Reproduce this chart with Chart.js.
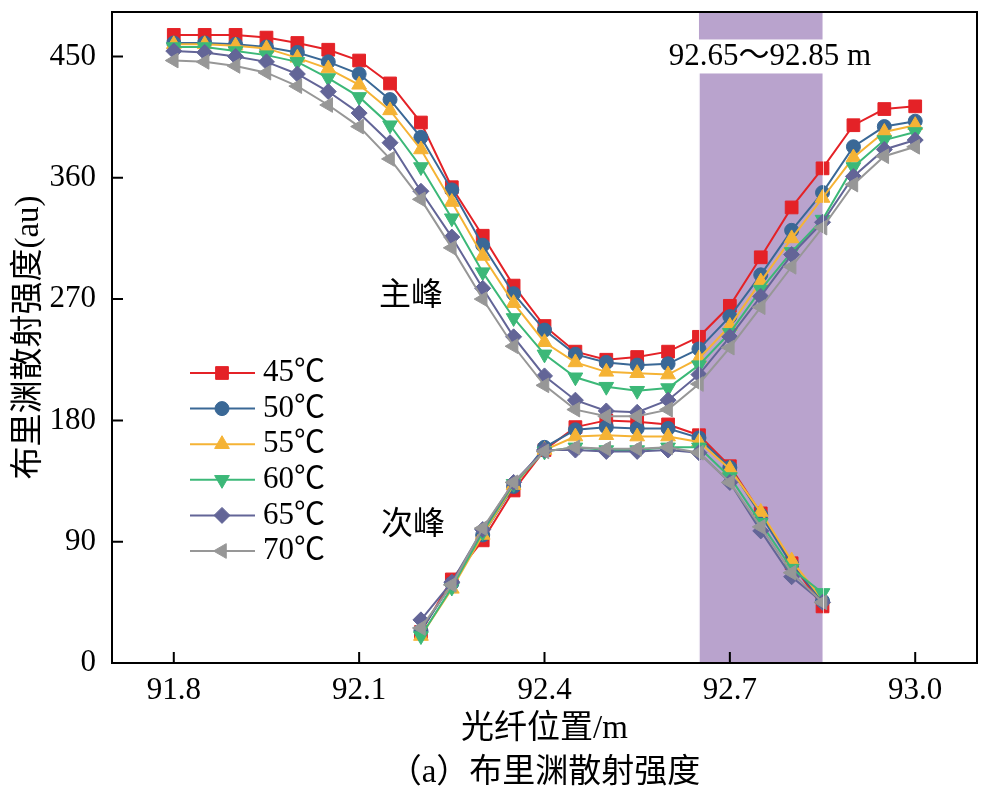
<!DOCTYPE html>
<html>
<head>
<meta charset="utf-8">
<script src="https://cdn.jsdelivr.net/npm/chart.js@4.4.1/dist/chart.umd.min.js"></script>
<style>
  html, body { margin: 0; padding: 0; background: #fff; }
  canvas { display: block; }
</style>
</head>
<body>
<canvas id="chart" width="993" height="798"></canvas>
<script>
// 光纤位置 (m)
const xMain = [91.8, 91.85, 91.9, 91.95, 92.0, 92.05, 92.1, 92.15, 92.2, 92.25, 92.3, 92.35, 92.4,
               92.45, 92.5, 92.55, 92.6, 92.65, 92.7, 92.75, 92.8, 92.85, 92.9, 92.95, 93.0];
const xSub = [92.2, 92.25, 92.3, 92.35, 92.4, 92.45, 92.5, 92.55, 92.6, 92.65, 92.7, 92.75, 92.8, 92.85];

const temps = ['45℃', '50℃', '55℃', '60℃', '65℃', '70℃'];

// 主峰
const main45 = [466, 466, 466, 464, 460, 455, 447, 430, 401, 353, 317, 280, 250, 231, 225, 227, 231, 242, 265, 301, 338, 367, 399, 411, 413];
const main50 = [460, 460, 459, 457, 453, 446, 437, 418, 390, 351, 310, 274, 247, 229, 223, 221, 222, 233, 257, 288, 321, 349, 383, 398, 402];
const main55 = [459, 459, 458, 456, 449, 441, 429, 410, 381, 342, 302, 267, 238, 223, 216, 215, 214, 226, 250, 283, 315, 345, 375, 394, 399];
const main60 = [457, 457, 454, 451, 446, 434, 420, 399, 368, 330, 290, 256, 229, 212, 205, 202, 204, 221, 245, 277, 305, 329, 368, 388, 394];
const main65 = [454, 453, 450, 446, 437, 424, 408, 386, 350, 316, 278, 242, 213, 195, 187, 186, 195, 214, 242, 272, 303, 327, 361, 381, 388];
const main70 = [447, 446, 443, 438, 428, 414, 398, 374, 344, 308, 270, 235, 206, 188, 183, 183, 188, 207, 234, 264, 294, 323, 355, 376, 383];

// 次峰
const sub45 = [23, 62, 91, 128, 158, 175, 180, 179, 177, 169, 146, 111, 74, 42];
const sub50 = [24, 59, 95, 131, 160, 173, 175, 174, 174, 167, 145, 110, 73, 46];
const sub55 = [20, 55, 95, 132, 158, 168, 169, 168, 168, 164, 144, 112, 76, 47];
const sub60 = [20, 56, 97, 133, 157, 160, 158, 158, 160, 160, 138, 104, 70, 52];
const sub65 = [32, 60, 99, 134, 158, 158, 157, 157, 158, 156, 134, 98, 64, 45];
const sub70 = [26, 58, 100, 134, 157, 160, 159, 159, 160, 156, 134, 101, 67, 45];

const xTicks = [91.8, 92.1, 92.4, 92.7, 93.0];
const yTicks = [0, 90, 180, 270, 360, 450];
const bandRange = [92.65, 92.85];

const mainSeries = [main45, main50, main55, main60, main65, main70];
const subSeries = [sub45, sub50, sub55, sub60, sub65, sub70];

const colors = ['#e42227', '#3a6896', '#f5b335', '#3cb878', '#636597', '#979797'];
const markers = [
  { pointStyle: 'rect', radius: 9, rotation: 0 },
  { pointStyle: 'circle', radius: 7, rotation: 0 },
  { pointStyle: 'triangle', radius: 8.5, rotation: 0 },
  { pointStyle: 'triangle', radius: 8.5, rotation: 180 },
  { pointStyle: 'rectRot', radius: 8, rotation: 0 },
  { pointStyle: 'triangle', radius: 8.5, rotation: -90 }
];

const serif = "'Liberation Serif', 'Noto Sans CJK SC', serif";

const datasets = [];
temps.forEach((t, i) => {
  [[xMain, mainSeries[i]], [xSub, subSeries[i]]].forEach(([xs, ys]) => {
    datasets.push({
      label: t,
      data: xs.map((x, k) => ({ x: x, y: ys[k] })),
      borderColor: colors[i],
      backgroundColor: colors[i],
      borderWidth: 2,
      pointStyle: markers[i].pointStyle,
      pointRadius: markers[i].radius,
      pointRotation: markers[i].rotation,
      pointBackgroundColor: colors[i],
      pointBorderColor: colors[i],
      pointBorderWidth: 1,
      tension: 0,
      order: 5 - i
    });
  });
});

// 紫色区域 + 标注
const bandPlugin = {
  id: 'band',
  beforeDatasetsDraw(chart) {
    const { ctx, chartArea: a, scales: { x, y } } = chart;
    const x0 = x.getPixelForValue(bandRange[0]);
    const x1 = x.getPixelForValue(bandRange[1]);
    ctx.save();
    ctx.fillStyle = '#b9a3cd';
    ctx.fillRect(x0, a.top, x1 - x0, a.bottom - a.top);

    const label = '92.65～92.85 m';
    ctx.font = '31px ' + serif;
    const w = ctx.measureText(label).width;
    const cx = x.getPixelForValue(92.765);
    const cy = y.getPixelForValue(450);
    ctx.fillStyle = '#fff';
    ctx.fillRect(cx - w / 2 - 2, cy - 17, w + 4, 34);
    ctx.fillStyle = '#000';
    ctx.textAlign = 'center';
    ctx.textBaseline = 'middle';
    ctx.fillText(label, cx, cy);
    ctx.restore();
  },
  afterDatasetsDraw(chart) {
    const { ctx, chartArea: a, scales: { x } } = chart;
    ctx.save();
    ctx.strokeStyle = 'rgba(255,255,255,0.7)';
    ctx.lineWidth = 1;
    bandRange.forEach(v => {
      const px = Math.round(x.getPixelForValue(v)) + 0.5;
      ctx.beginPath();
      ctx.moveTo(px, a.top + 60);
      ctx.lineTo(px, a.bottom);
      ctx.stroke();
    });
    ctx.restore();
  }
};

// 边框、内侧刻度、文字、图例
const decorPlugin = {
  id: 'decor',
  afterDraw(chart) {
    const { ctx, chartArea: a, scales: { x, y } } = chart;
    ctx.save();
    ctx.strokeStyle = '#000';
    ctx.lineWidth = 2;
    ctx.strokeRect(a.left, a.top, a.right - a.left, a.bottom - a.top);
    ctx.beginPath();
    x.ticks.forEach(t => {
      const px = x.getPixelForValue(t.value);
      ctx.moveTo(px, a.bottom);
      ctx.lineTo(px, a.bottom - 11);
    });
    y.ticks.forEach(t => {
      const py = y.getPixelForValue(t.value);
      ctx.moveTo(a.left, py);
      ctx.lineTo(a.left + 11, py);
    });
    ctx.stroke();

    ctx.fillStyle = '#000';
    ctx.font = '32px ' + serif;
    ctx.textAlign = 'center';
    ctx.textBaseline = 'middle';
    ctx.fillText('主峰', x.getPixelForValue(92.184), y.getPixelForValue(272));
    ctx.fillText('次峰', x.getPixelForValue(92.187), y.getPixelForValue(102));

    // 图例
    const lx = a.left + 78;
    const ly = a.top + 361;
    temps.forEach((t, i) => {
      const ry = ly + i * 35.6;
      ctx.strokeStyle = colors[i];
      ctx.lineWidth = 2;
      ctx.beginPath();
      ctx.moveTo(lx, ry);
      ctx.lineTo(lx + 65, ry);
      ctx.stroke();
      ctx.fillStyle = colors[i];
      ctx.strokeStyle = colors[i];
      ctx.lineWidth = 1;
      Chart.helpers.drawPoint(ctx, {
        pointStyle: markers[i].pointStyle,
        radius: markers[i].radius,
        rotation: markers[i].rotation,
        borderWidth: 1
      }, lx + 32, ry);
      ctx.fillStyle = '#000';
      ctx.font = '31px ' + serif;
      ctx.textAlign = 'left';
      ctx.fillText(t, lx + 73, ry);
    });
    ctx.restore();
  }
};

new Chart(document.getElementById('chart'), {
  type: 'line',
  data: { datasets: datasets },
  options: {
    responsive: false,
    animation: false,
    layout: { padding: { top: 12, right: 16, left: 0, bottom: 0 } },
    plugins: { legend: { display: false }, tooltip: { enabled: false } },
    scales: {
      x: {
        type: 'linear',
        min: 91.7,
        max: 93.1,
        afterBuildTicks: s => { s.ticks = xTicks.map(v => ({ value: v })); },
        afterFit: s => { s.height = 135; s.paddingLeft = 0; s.paddingRight = 0; },
        grid: { display: false, drawTicks: false },
        border: { display: false },
        ticks: {
          padding: 9,
          color: '#000',
          font: { family: serif, size: 31 },
          callback: v => v.toFixed(1)
        },
        title: {
          display: true,
          text: ['光纤位置/m', '（a）布里渊散射强度'],
          color: '#000',
          font: { family: serif, size: 33, lineHeight: 1.33 },
          padding: { top: 0, bottom: 3 }
        }
      },
      y: {
        min: 0,
        max: 483,
        afterBuildTicks: s => { s.ticks = yTicks.map(v => ({ value: v })); },
        afterFit: s => { s.width = 112; s.paddingTop = 0; s.paddingBottom = 0; },
        grid: { display: false, drawTicks: false },
        border: { display: false },
        ticks: {
          padding: 16,
          color: '#000',
          font: { family: serif, size: 31 },
          callback: v => String(v)
        },
        title: {
          display: true,
          text: '布里渊散射强度(au)',
          color: '#000',
          font: { family: serif, size: 33 },
          padding: { top: 10, bottom: 0 }
        }
      }
    }
  },
  plugins: [bandPlugin, decorPlugin]
});
</script>
</body>
</html>
